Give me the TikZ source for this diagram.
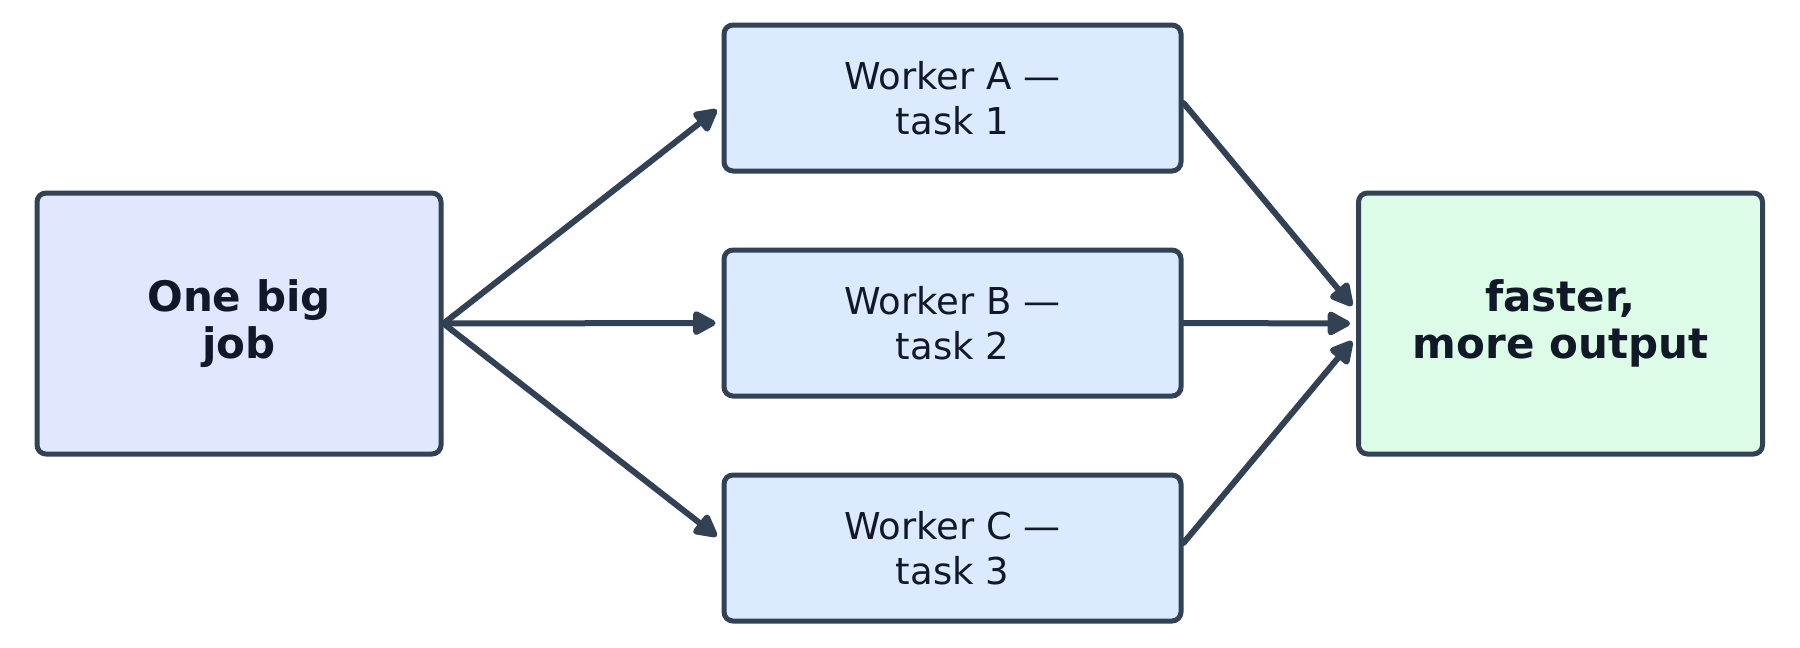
\documentclass[tikz,border=0pt]{standalone}
\usepackage{fontspec}
\setmainfont{DejaVu Sans}
\usetikzlibrary{arrows.meta}
\definecolor{edgeline}{HTML}{334155}
\definecolor{inktext}{HTML}{111827}
\definecolor{jobfill}{HTML}{E0E7FF}
\definecolor{workfill}{HTML}{DBEAFE}
\definecolor{donefill}{HTML}{DCFCE7}
\begin{document}
\begin{tikzpicture}[x=1pt, y=-1pt]
\tikzstyle{every node}=[draw=edgeline, line width=5pt, rounded corners=9pt, inner sep=0pt, align=center, text=inktext]
\tikzstyle{bigbox}=[minimum width=404pt, minimum height=261pt, font=\bfseries\fontsize{42}{47}\selectfont]
\tikzstyle{workbox}=[fill=workfill, minimum width=457pt, minimum height=146pt, font=\fontsize{37}{45}\selectfont]
\tikzstyle{flow}=[draw=edgeline, line width=6pt, line cap=round, -{Triangle[length=26pt, width=26pt, round]}, shorten >=6pt]
\useasboundingbox (0,0) rectangle (1800,648);

\node [bigbox, fill=jobfill] (job) at (239,323.5) {One big\\job};
\node [workbox] (wa) at (952.5,98) {Worker A —\\task 1};
\node [workbox] (wb) at (952.5,323) {Worker B —\\task 2};
\node [workbox] (wc) at (952.5,548) {Worker C —\\task 3};
\node [bigbox, fill=donefill] (out) at (1560.5,323.5) {faster,\\more output};

\draw [flow] (job.east) -- ([yshift=-8pt]wa.west);
\draw [flow] (job.east) -- (wb.west);
\draw [flow] (job.east) -- ([yshift=8pt]wc.west);
\draw [flow] ([yshift=-5pt]wa.east) -- ([yshift=13pt]out.west);
\draw [flow] (wb.east) -- (out.west);
\draw [flow] ([yshift=5pt]wc.east) -- ([yshift=-13pt]out.west);
\end{tikzpicture}
\end{document}
